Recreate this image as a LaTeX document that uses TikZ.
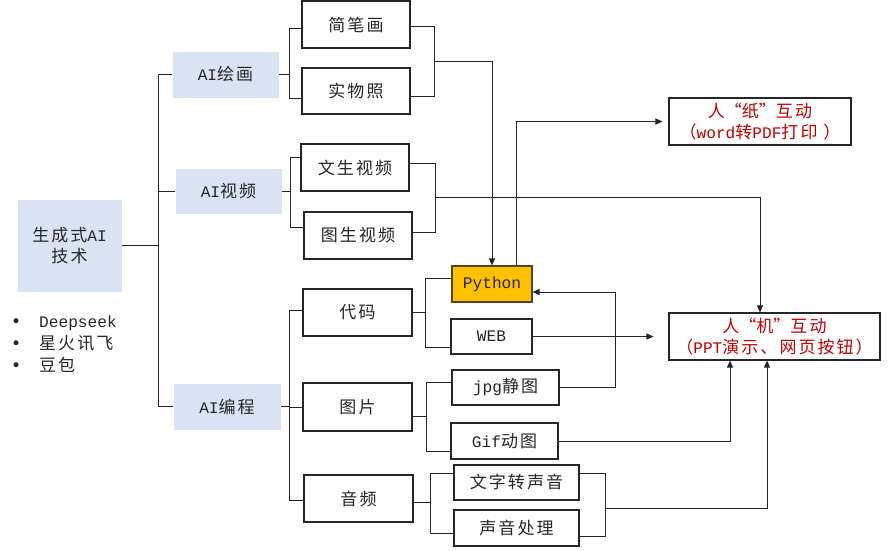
\documentclass[tikz,border=0pt]{standalone}
\usepackage{fontspec}
\setmainfont{Noto Sans CJK SC}[LetterSpace=12]
\newfontfamily\lat{Liberation Mono}[Scale=0.95]
\newfontfamily\dv{DejaVu Sans}
\usetikzlibrary{arrows.meta}
\definecolor{lblue}{HTML}{DAE3F3}
\definecolor{gold}{HTML}{FFC000}
\definecolor{dred}{HTML}{C00000}
\definecolor{ink}{HTML}{262626}
\newcommand\oq{\makebox[17pt][r]{“}}
\newcommand\cq{\makebox[17pt][l]{”}}
\newcommand\bul{\makebox[29pt][l]{\hspace{1pt}{\dv •}}}
\begin{document}
\begin{tikzpicture}[x=1pt,y=-1pt,
  font=\fontsize{17}{21}\selectfont,
  ln/.style={draw=ink, line width=1pt},
  arr/.style={ln, -{Triangle[length=7pt,width=6pt]}},
  cat/.style={fill=lblue, draw=white, line width=0.8pt, inner sep=0pt, align=center, text=ink},
  box/.style={draw=ink, line width=1.1pt, fill=white, inner sep=0pt, align=center, text=ink},
  gbox/.style={box, fill=gold, draw=ink!80!gold},
  rbox/.style={box, text=dred},
]
\useasboundingbox (0,0) rectangle (890,550);

% categories
\node[cat, minimum width=105pt, minimum height=93pt] (root) at (69.5,245.5) {生成式{\lat AI}\\技术};
\node[cat, minimum width=107pt, minimum height=47pt] (c1) at (225.5,74.5) {{\lat AI}绘画};
\node[cat, minimum width=107pt, minimum height=46pt] (c2) at (228.5,191) {{\lat AI}视频};
\node[cat, minimum width=108pt, minimum height=47pt] (c3) at (227,406.5) {{\lat AI}编程};

\node[anchor=north west, inner sep=0pt, align=left, text=ink] (lst) at (10,316)
  {\bul{\lat Deepseek}\\[1pt]\bul 星火讯飞\\[1pt]\bul 豆包};

% level 2
\node[box, minimum width=108pt, minimum height=47pt] (jbh) at (356,24.5) {简笔画};
\node[box, minimum width=108pt, minimum height=46pt] (swz) at (356,91) {实物照};
\node[box, minimum width=108pt, minimum height=47pt] (wsv) at (355,167.5) {文生视频};
\node[box, minimum width=108pt, minimum height=47pt] (tsv) at (358,235.5) {图生视频};
\node[box, minimum width=109pt, minimum height=47pt] (dm) at (357.5,312.5) {代码};
\node[box, minimum width=109pt, minimum height=48pt] (tp) at (357.5,407) {图片};
\node[box, minimum width=109pt, minimum height=47pt] (yp) at (358.5,498.5) {音频};

% level 3
\node[gbox, minimum width=80pt, minimum height=36pt] (py) at (492,284) {{\lat Python}};
\node[box, minimum width=81pt, minimum height=35pt] (web) at (491.5,336.5) {{\lat WEB}};
\node[box, minimum width=107pt, minimum height=35pt] (jpg) at (505.5,387.5) {{\lat jpg}静图};
\node[box, minimum width=107pt, minimum height=36pt] (gif) at (504.5,441) {{\lat Gif}动图};
\node[box, minimum width=125pt, minimum height=35pt] (wzs) at (516.5,482.5) {文字转声音};
\node[box, minimum width=125pt, minimum height=36pt] (sycl) at (516.5,528) {声音处理};

% outputs
\node[rbox, minimum width=182pt, minimum height=47pt] (rz) at (760,121.5) {人\oq 纸\cq 互动\\（{\lat word}转{\lat PDF}打印 ）};
\node[rbox, minimum width=211pt, minimum height=47pt] (rj) at (774.5,336.5) {人\oq 机\cq 互动\\（{\lat PPT}演示、网页按钮）};

% trunk
\coordinate (tr) at (158,0);
\draw[ln] (root.east) -- (root.east -| tr);
\draw[ln] (c1.west) -- (c1.west -| tr) -- (c3.west -| tr) -- (c3.west);
\draw[ln] (c2.west) -- (c2.west -| tr);

% AI绘画 bracket
\coordinate (a1) at (289,28); \coordinate (a2) at (289,98);
\draw[ln] (c1.east) -- (c1.east -| a1);
\draw[ln] (jbh.west |- a1) -- (a1) -- (a2) -- (swz.west |- a2);
\coordinate (b1) at (434,26); \coordinate (b2) at (434,96); \coordinate (bm) at (434,61);
\draw[ln] (jbh.east |- b1) -- (b1) -- (b2) -- (swz.east |- b2);
\draw[arr] (bm) -| (py.north);

% AI视频 bracket
\coordinate (a3) at (290,157); \coordinate (a4) at (290,227);
\draw[ln] (c2.east) -- (c2.east -| a3);
\draw[ln] (wsv.west |- a3) -- (a3) -- (a4) -- (tsv.west |- a4);
\coordinate (b3) at (435,163); \coordinate (b4) at (435,232); \coordinate (bm2) at (435,197);
\draw[ln] (wsv.east |- b3) -- (b3) -- (b4) -- (tsv.east |- b4);
\coordinate (rjx) at (760,0);
\draw[arr] (bm2) -| (rjx |- rj.north);

% AI编程 bracket
\coordinate (a5) at (289,310); \coordinate (a6) at (289,500);
\draw[ln] (c3.east) -- (c3.east -| a5);
\draw[ln] (dm.west |- a5) -- (a5) -- (a6) -- (yp.west |- a6);
\draw[ln] (tp.west) -- (tp.west -| a5);

% 代码 bracket
\coordinate (d1) at (425,278); \coordinate (d2) at (425,347);
\draw[ln] (dm.east) -- (dm.east -| d1);
\draw[ln] (py.west |- d1) -- (d1) -- (d2) -- (web.west |- d2);

% 图片 bracket
\coordinate (e1) at (426,382); \coordinate (e2) at (426,451); \coordinate (em) at (426,416);
\draw[ln] (tp.east |- em) -- (em);
\draw[ln] (jpg.west |- e1) -- (e1) -- (e2) -- (gif.west |- e2);

% 音频 bracket
\coordinate (f1) at (430,473); \coordinate (f2) at (430,533); \coordinate (fm) at (430,502);
\draw[ln] (yp.east |- fm) -- (fm);
\draw[ln] (wzs.west |- f1) -- (f1) -- (f2) -- (sycl.west |- f2);
\coordinate (g1) at (605,473); \coordinate (g2) at (605,536); \coordinate (gm) at (605,508);
\draw[ln] (wzs.east |- g1) -- (g1) -- (g2) -- (sycl.east |- g2);
\coordinate (rjx2) at (767,0);
\draw[arr] (gm) -| (rjx2 |- rj.south);

% cross connectors
\coordinate (h1) at (615,292);
\draw[arr] (jpg.east) -| (h1) -- (py.east |- h1);
\draw[arr, shorten >=15pt] (web.east) -- (rj.west);
\coordinate (rjx3) at (730,0);
\draw[arr] (gif.east) -| (rjx3 |- rj.south);
\coordinate (pyx) at (516,0);
\draw[arr, shorten >=6pt] (pyx |- py.north) |- (rz.west);
\end{tikzpicture}
\end{document}
